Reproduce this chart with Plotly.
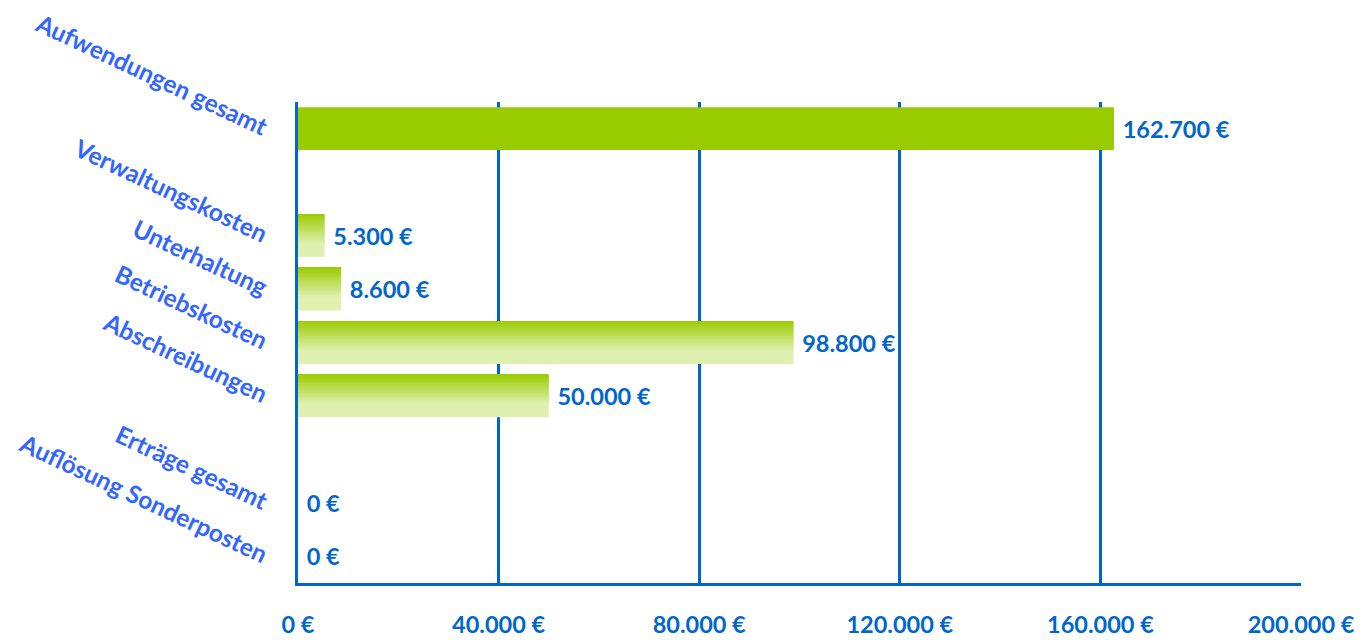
import plotly.graph_objects as go

# categories top to bottom, "" = empty slot in the chart
categories = ["Aufwendungen gesamt", "", "Verwaltungskosten", "Unterhaltung",
              "Betriebskosten", "Abschreibungen", "", "Erträge gesamt",
              "Auflösung Sonderposten"]
values = [162700, None, 5300, 8600, 98800, 50000, None, 0, 0]
gradient_bar = [False, False, True, True, True, True, False, False, False]

x_ticks = [0, 40000, 80000, 120000, 160000, 200000]
x_tick_labels = ["0 €", "40.000 €", "80.000 €", "120.000 €", "160.000 €", "200.000 €"]

BLUE = "#0066CC"
LABEL_BLUE = "#3366FF"
GREEN = "#99CC00"
LIGHT = "#E0F0B0"

pos = list(range(len(categories)))
tick_pos = [p for p, c in zip(pos, categories) if c]
tick_txt = [c for c in categories if c]
bar_pos = [p for p, v in zip(pos, values) if v is not None]
bar_val = [v for v in values if v is not None]
bar_col = [GREEN if not g else LIGHT for g, v in zip(gradient_bar, values) if v is not None]

fig = go.Figure()

# base bars with labels
fig.add_trace(go.Bar(
    y=bar_pos, x=bar_val, orientation="h", width=0.8,
    marker=dict(color=bar_col, line=dict(width=0)),
    text=bar_val, texttemplate=" %{x:,.0f} €", textposition="outside",
    textfont=dict(family="Lato", size=23.5, color=BLUE, weight="bold"),
    cliponaxis=False, showlegend=False, hoverinfo="skip",
))

# vertical gradient on the detail bars: thin strips from green (top) to light
g_pos = [p for p, g in zip(pos, gradient_bar) if g]
g_val = [v for v, g in zip(values, gradient_bar) if g]
n = 16
strip = 0.8 * 0.7 / n


def mix(a, b, t):
    a = [int(a[i:i + 2], 16) for i in (1, 3, 5)]
    b = [int(b[i:i + 2], 16) for i in (1, 3, 5)]
    return "rgb(%d,%d,%d)" % tuple(round(a[k] + (b[k] - a[k]) * t) for k in range(3))


for i in range(n):
    fig.add_trace(go.Bar(
        y=g_pos, x=g_val, orientation="h", width=strip + 0.002,
        offset=-0.4 + i * strip,
        marker=dict(color=mix(GREEN, LIGHT, (i + 0.5) / n), line=dict(width=0)),
        showlegend=False, hoverinfo="skip",
    ))

# page body has an 8px margin, so the figure is 8px smaller than the window
fig.update_layout(
    width=1354, height=632,
    margin=dict(l=290, r=61, t=94, b=57),
    plot_bgcolor="white", paper_bgcolor="white",
    separators=",.",
    barmode="overlay",
    xaxis=dict(
        range=[0, 200000], tickvals=x_ticks, ticktext=x_tick_labels,
        showgrid=True, gridcolor=BLUE, gridwidth=3,
        showline=True, linecolor=BLUE, linewidth=3, zeroline=False,
        tickfont=dict(family="Lato", size=23.5, color=BLUE, weight="bold"),
        ticks="", ticklabelstandoff=19, automargin=False,
        ticklabeloverflow="allow",
    ),
    yaxis=dict(
        range=[len(categories) - 0.5, -0.5], tickvals=tick_pos, ticktext=tick_txt,
        showgrid=False, zeroline=False,
        showline=True, linecolor=BLUE, linewidth=3,
        tickangle=25, ticks="", ticklabelstandoff=23, automargin=False,
        ticklabeloverflow="allow",
        tickfont=dict(family="Lato", size=24.5, color=LABEL_BLUE, weight="bold"),
    ),
)

fig.write_html("out.html")
